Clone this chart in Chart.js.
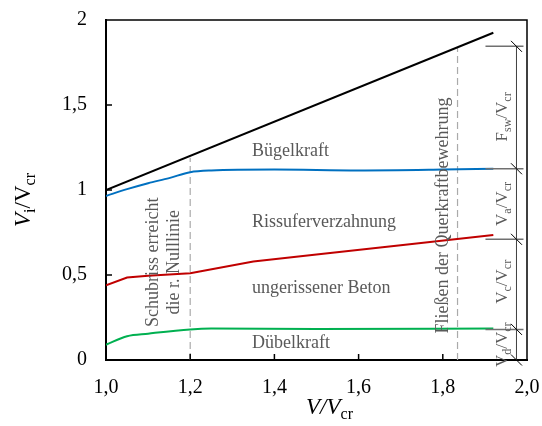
<!DOCTYPE html>
<html>
<head>
<meta charset="utf-8">
<script src="https://cdn.jsdelivr.net/npm/chart.js@4/dist/chart.umd.min.js"></script>
<style>
  body { margin: 0; background: #fff; }
  #wrap { width: 542px; height: 426px; }
</style>
</head>
<body>
<div id="wrap"><canvas id="chart"></canvas></div>
<script>
// Werte
const xGesamt = [1.0, 1.92];
const yGesamt = [1.0, 1.925];

const xBuegel = [1.0, 1.05, 1.1, 1.15, 1.2, 1.25, 1.4, 1.6, 1.8, 1.92];
const yBuegel = [0.965, 1.005, 1.04, 1.07, 1.105, 1.115, 1.12, 1.115, 1.12, 1.125];

const xRiss = [1.0, 1.05, 1.1, 1.2, 1.35, 1.5, 1.7, 1.92];
const yRiss = [0.44, 0.485, 0.495, 0.51, 0.58, 0.62, 0.675, 0.735];

const xDuebel = [1.0, 1.05, 1.1, 1.2, 1.25, 1.5, 1.92];
const yDuebel = [0.09, 0.14, 0.155, 0.18, 0.185, 0.183, 0.185];

const xTicks = [1.0, 1.2, 1.4, 1.6, 1.8, 2.0];
const yTicks = [0, 0.5, 1, 1.5, 2];

// Markierungen
const schubrissX = 1.2;
const fliessenX = 1.835;
const bemassungX = 1.975;
const bemassungStufen = [0, 0.18, 0.71, 1.125, 1.845];

const SERIF = "'Liberation Serif', 'Times New Roman', serif";
const GRAU = "#595959";

function punkte(xs, ys) {
  return xs.map((x, i) => ({ x: x, y: ys[i] }));
}

function komma(v) {
  return String(v).replace(".", ",");
}

// Text mit Indizes zeichnen (zentriert)
function richText(ctx, teile, x, y, winkel) {
  ctx.save();
  ctx.translate(x, y);
  if (winkel) ctx.rotate(winkel);
  let breite = 0;
  teile.forEach((t) => {
    ctx.font = t.font;
    breite += ctx.measureText(t.t).width;
  });
  let pos = -breite / 2;
  ctx.textBaseline = "middle";
  ctx.textAlign = "left";
  teile.forEach((t) => {
    ctx.font = t.font;
    ctx.fillStyle = t.color || "#000";
    ctx.fillText(t.t, pos, t.dy || 0);
    pos += ctx.measureText(t.t).width;
  });
  ctx.restore();
}

function textGedreht(ctx, text, x, y, font, farbe) {
  ctx.save();
  ctx.translate(x, y);
  ctx.rotate(-Math.PI / 2);
  ctx.font = font;
  ctx.fillStyle = farbe;
  ctx.textAlign = "center";
  ctx.textBaseline = "middle";
  ctx.fillText(text, 0, 0);
  ctx.restore();
}

const extras = {
  id: "extras",
  beforeDatasetsDraw(chart) {
    const ctx = chart.ctx;
    const sx = chart.scales.x;
    const sy = chart.scales.y;
    // gestrichelte Linien
    ctx.save();
    ctx.strokeStyle = "#aaaaaa";
    ctx.lineWidth = 1.2;
    ctx.setLineDash([7, 4]);
    [[schubrissX, 1.19], [fliessenX, 1.84]].forEach(([vx, vy]) => {
      ctx.beginPath();
      ctx.moveTo(sx.getPixelForValue(vx), sy.getPixelForValue(0));
      ctx.lineTo(sx.getPixelForValue(vx), sy.getPixelForValue(vy));
      ctx.stroke();
    });
    ctx.restore();
  },
  afterDraw(chart) {
    const ctx = chart.ctx;
    const a = chart.chartArea;
    const sx = chart.scales.x;
    const sy = chart.scales.y;

    // Rahmen oben / rechts
    ctx.save();
    ctx.strokeStyle = "#000";
    ctx.lineWidth = 1.5;
    ctx.beginPath();
    ctx.moveTo(a.left, a.top);
    ctx.lineTo(a.right, a.top);
    ctx.lineTo(a.right, a.bottom);
    ctx.stroke();

    // Teilstriche nach innen
    ctx.lineWidth = 1.5;
    xTicks.slice(1, -1).forEach((v) => {
      const px = sx.getPixelForValue(v);
      ctx.beginPath();
      ctx.moveTo(px, a.bottom);
      ctx.lineTo(px, a.bottom - 6);
      ctx.stroke();
    });
    yTicks.slice(1, -1).forEach((v) => {
      const py = sy.getPixelForValue(v);
      ctx.beginPath();
      ctx.moveTo(a.left, py);
      ctx.lineTo(a.left + 6, py);
      ctx.stroke();
    });

    // Bemaßung rechts
    const bx = sx.getPixelForValue(bemassungX);
    ctx.strokeStyle = "#404040";
    ctx.lineWidth = 1;
    ctx.beginPath();
    ctx.moveTo(bx, sy.getPixelForValue(0));
    ctx.lineTo(bx, sy.getPixelForValue(bemassungStufen[bemassungStufen.length - 1]));
    ctx.stroke();
    bemassungStufen.forEach((v, i) => {
      const py = sy.getPixelForValue(v);
      if (i > 0) {
        ctx.strokeStyle = "#707070";
        ctx.lineWidth = 1.5;
        ctx.beginPath();
        ctx.moveTo(bx - 31, py);
        ctx.lineTo(bx + 7, py);
        ctx.stroke();
      }
      ctx.strokeStyle = "#000";
      ctx.lineWidth = 1;
      ctx.beginPath();
      ctx.moveTo(bx - 5.5, py - 5.5);
      ctx.lineTo(bx + 5.5, py + 5.5);
      ctx.stroke();
    });
    ctx.restore();

    const f18 = "18px " + SERIF;
    const f17 = "17px " + SERIF;
    const f12 = "12px " + SERIF;

    // Bereichsbeschriftungen
    ctx.save();
    ctx.font = f18;
    ctx.fillStyle = GRAU;
    ctx.textAlign = "left";
    ctx.textBaseline = "middle";
    const lx = sx.getPixelForValue(1.347);
    ctx.fillText("Bügelkraft", lx, sy.getPixelForValue(1.225));
    ctx.fillText("Rissuferverzahnung", lx, sy.getPixelForValue(0.81));
    ctx.fillText("ungerissener Beton", lx, sy.getPixelForValue(0.42));
    ctx.fillText("Dübelkraft", lx, sy.getPixelForValue(0.1));
    ctx.restore();

    textGedreht(ctx, "Schubriss erreicht", sx.getPixelForValue(1.112), sy.getPixelForValue(0.575), f18, GRAU);
    textGedreht(ctx, "die r. Nulllinie", sx.getPixelForValue(1.163), sy.getPixelForValue(0.575), f18, GRAU);
    textGedreht(ctx, "Fließen der Querkraftbewehrung", sx.getPixelForValue(1.8), sy.getPixelForValue(0.85), f18, GRAU);

    // Bemaßungstexte
    const rx = sx.getPixelForValue(1.942);
    const rechts = [
      ["F", "sw", 1.43],
      ["V", "a", 0.918],
      ["V", "c", 0.46],
      ["V", "d", 0.09],
    ];
    rechts.forEach(([g, idx, vy]) => {
      richText(ctx, [
        { t: g, font: f17, color: GRAU },
        { t: idx, font: f12, color: GRAU, dy: 5 },
        { t: "/V", font: f17, color: GRAU },
        { t: "cr", font: f12, color: GRAU, dy: 5 },
      ], rx, sy.getPixelForValue(vy), -Math.PI / 2);
    });

    // Achsentitel
    const fi = "italic 23px " + SERIF;
    const fn = "23px " + SERIF;
    const fs = "16px " + SERIF;
    richText(ctx, [
      { t: "V", font: fi },
      { t: "i", font: fs, dy: 7 },
      { t: "/V", font: fn },
      { t: "cr", font: fs, dy: 7 },
    ], 24, 200, -Math.PI / 2);
    richText(ctx, [
      { t: "V/V", font: fi },
      { t: "cr", font: fs, dy: 7 },
    ], (a.left + a.right) / 2 + 13, 408, 0);
  },
};

const linie = (daten, farbe, glatt) => ({
  data: daten,
  borderColor: farbe,
  borderWidth: 2,
  pointRadius: 0,
  fill: false,
  tension: glatt ? 0.4 : 0,
  cubicInterpolationMode: glatt ? "monotone" : "default",
});

new Chart(document.getElementById("chart"), {
  type: "line",
  data: {
    datasets: [
      linie(punkte(xGesamt, yGesamt), "#000000", false),
      linie(punkte(xBuegel, yBuegel), "#0070C0", true),
      linie(punkte(xRiss, yRiss), "#C00000", false),
      linie(punkte(xDuebel, yDuebel), "#00B050", true),
    ],
  },
  options: {
    responsive: true,
    maintainAspectRatio: false,
    animation: false,
    layout: { padding: { top: 20, right: 15, left: 0, bottom: 0 } },
    plugins: { legend: { display: false }, tooltip: { enabled: false } },
    scales: {
      x: {
        type: "linear",
        min: 1,
        max: 2,
        afterFit: (s) => {
          s.height = 66;
          s.paddingLeft = 0;
          s.paddingRight = 0;
        },
        afterBuildTicks: (s) => { s.ticks = xTicks.map((v) => ({ value: v })); },
        grid: { display: false, drawTicks: false },
        border: { display: true, color: "#000", width: 2 },
        ticks: {
          padding: 16,
          color: "#000",
          font: { family: SERIF, size: 20 },
          callback: (v) => komma(v.toFixed(1)),
        },
      },
      y: {
        min: 0,
        max: 2,
        afterFit: (s) => {
          s.width = 106;
          s.paddingTop = 0;
          s.paddingBottom = 0;
        },
        afterBuildTicks: (s) => { s.ticks = yTicks.map((v) => ({ value: v })); },
        grid: { display: false, drawTicks: false },
        border: { display: true, color: "#000", width: 2 },
        ticks: {
          padding: 19,
          color: "#000",
          font: { family: SERIF, size: 20 },
          callback: (v) => komma(v),
        },
      },
    },
  },
  plugins: [extras],
});
</script>
</body>
</html>
